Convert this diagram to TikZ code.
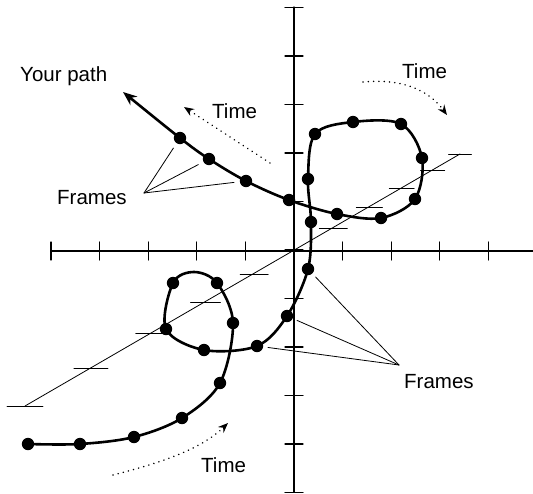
\documentclass[tikz,border=0pt]{standalone}
\usepackage{fontspec}
\setmainfont{Liberation Sans}
\usetikzlibrary{arrows.meta,calc}

\tikzset{
  axisline/.style={line width=1.3pt},
  axistick/.style={line width=1.1pt},
  persp/.style={line width=0.8pt},
  motion/.style={line width=2.6pt,-{Stealth[length=14pt,width=11pt]}},
  leader/.style={line width=0.8pt},
  timearrow/.style={line width=1.6pt,dash pattern=on 0.1pt off 5.2pt,
    -{Stealth[length=10pt,width=8pt]}},
  lbl/.style={inner sep=0pt,anchor=base west,font=\fontsize{20.5}{24}\selectfont},
}

\begin{document}
\begin{tikzpicture}[x=1pt,y=-1pt,line cap=round,line join=round]
\useasboundingbox (0,0) rectangle (533,493);

% ---- axes ----
\coordinate (O) at (294,251);
\draw[axisline] (52,251) -- (533,251);
\draw[axisline] (294,7) -- (294,492);
\foreach \k in {-5,...,4}
  \draw[axistick] (294+48.6*\k,242) -- (294+48.6*\k,260);
\foreach \k in {-5,...,5}
  \draw[axistick] (285,250+48.5*\k) -- (303,250+48.5*\k);

% ---- axis going into the page ----
\coordinate (dl) at (25,406);
\coordinate (du) at (460,154);
\draw[persp] (dl) -- (du);
\foreach \t/\h in {1/18,0.755/17,0.529/16,0.329/15,0.148/14}
  \draw[persp] ($(O)!\t!(dl)$) ++(-\h,0) -- ++(2*\h,0);
\foreach \t/\h in {0.237/14,0.454/13,0.649/12.5,0.835/12,1/11.5}
  \draw[persp] ($(O)!\t!(du)$) ++(-\h,0) -- ++(2*\h,0);

% ---- the path and its frames ----
\foreach \x/\y [count=\i] in {28/444,80/444,134/437,182/418,220/383,
    233/323,217/283,173/283,166/329,204/350,257/346,287/316,308/269,
    311/222,308/179,315/134,353/122,401/124,422/158,415/199,381/218,
    337/214,289/200,246/181,209/159,180/138}
  \coordinate (p\i) at (\x,\y);
\coordinate (loop) at (194,272);
\coordinate (tip) at (123,92);

\draw[motion] plot[smooth,tension=0.55] coordinates {(p1) (p2) (p3) (p4)
  (p5) (p6) (p7) (loop) (p8) (p9) (p10) (p11) (p12) (p13) (p14) (p15)
  (p16) (p17) (p18) (p19) (p20) (p21) (p22) (p23) (p24) (p25) (p26) (tip)};
\foreach \i in {1,...,26}
  \fill (p\i) circle (6.2pt);

% ---- labels ----
\node[lbl] (you) at (20,81) {Your path};

\node[lbl] (framesA) at (57,204) {Frames};
\coordinate (fa) at (144,193);
\foreach \i in {26,25,24}
  \draw[leader,shorten >=12pt] (fa) -- (p\i);

\node[lbl] (framesB) at (404,388) {Frames};
\coordinate (fb) at (399,365);
\foreach \i in {13,12,11}
  \draw[leader,shorten >=11pt] (fb) -- (p\i);

% ---- time arrows ----
\node[lbl] (timeA) at (212,118) {Time};
\coordinate (ta1) at (270,163);
\coordinate (ta2) at (184,107);
\draw[timearrow] (ta1) -- (ta2);

\node[lbl] (timeB) at (402,78) {Time};
\coordinate (tb1) at (363,82);
\coordinate (tb2) at (447,115);
\draw[timearrow] (tb1) .. controls (405,78) and (430,92) .. (tb2);

\node[lbl] (timeC) at (201,472) {Time};
\coordinate (tc1) at (113,475);
\coordinate (tc2) at (228,423);
\draw[timearrow] (tc1) .. controls (160,463) and (200,450) .. (tc2);
\end{tikzpicture}
\end{document}
